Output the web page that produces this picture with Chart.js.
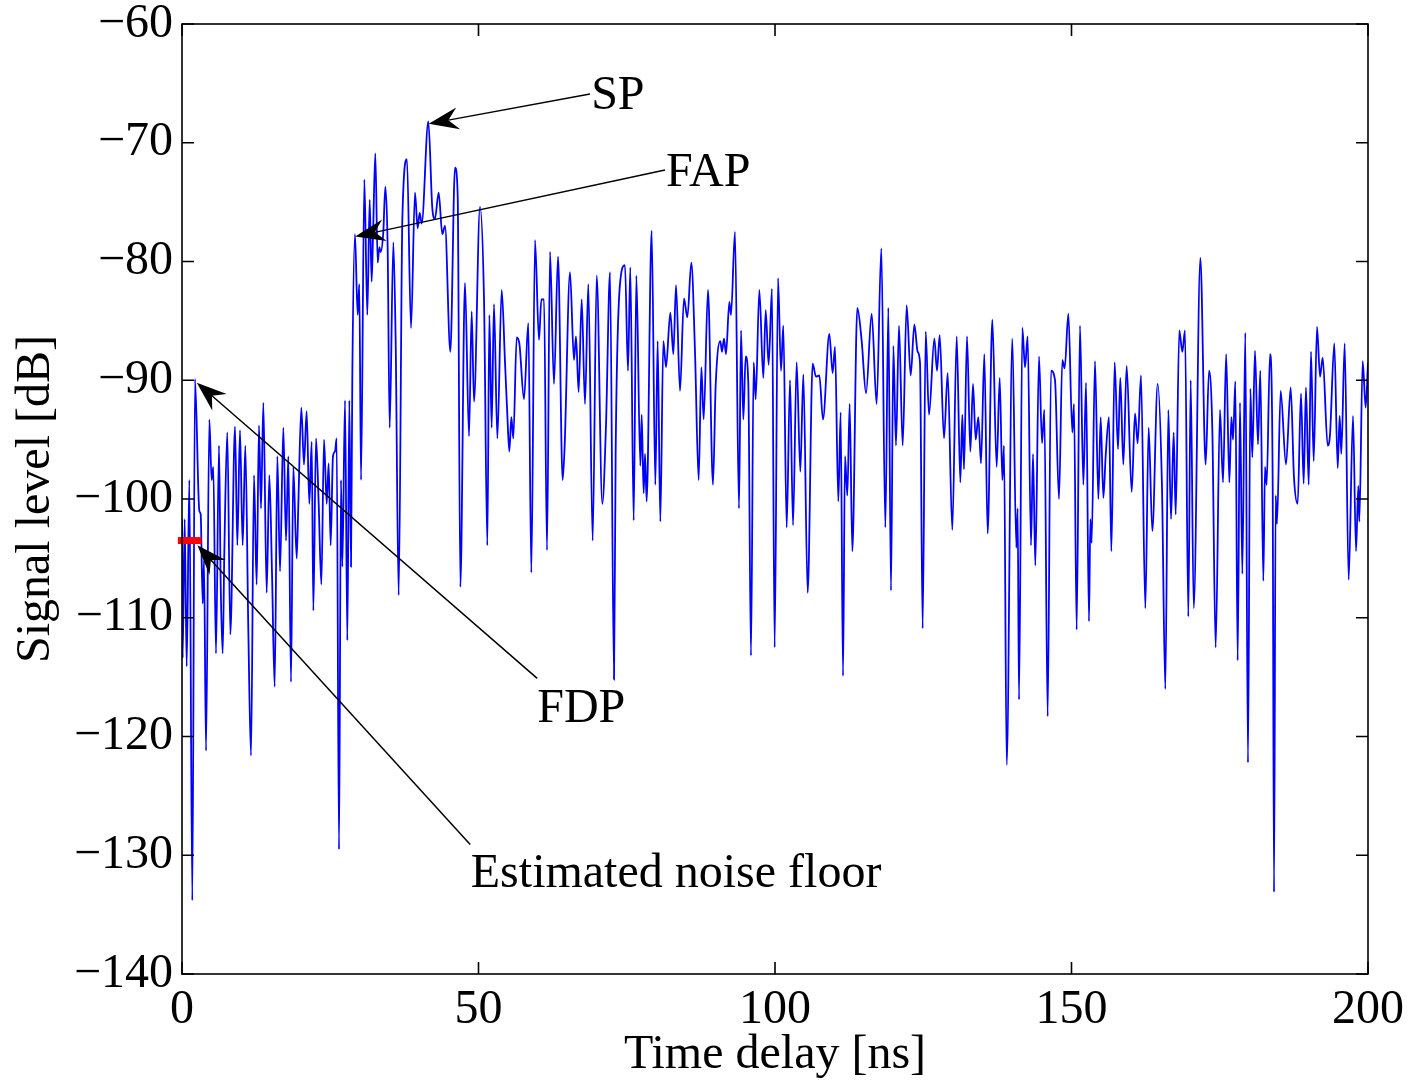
<!DOCTYPE html>
<html><head><meta charset="utf-8">
<script src="https://cdn.jsdelivr.net/npm/chart.js@4.4.1/dist/chart.umd.min.js"></script>
<style>html,body{margin:0;padding:0;background:#fff;overflow:hidden}</style>
</head><body>
<canvas id="c" width="1409" height="1084"></canvas>
<script>
// ---- data (time delay in ns, signal level in dB) ----
const times = [
0,0.11,0.45,0.79,1.24,1.74,2.19,2.92,3.15,3.49,3.71,4.05,4.61,5.00,5.28,5.73,6.24,6.52,6.86,7.14,7.64,8.15,8.94,9.33,9.78,10.23,10.68,11.19,11.64,12.14,12.59,12.98,13.32,13.72,14.28,14.73,15.18,15.63,16.08,16.53,17.09,17.54,17.93,18.38,18.77,19.34,19.62,20.12,20.57,21.02,21.47,21.87,22.15,22.60,23.05,23.50,23.95,24.40,24.73,
25.07,25.46,25.80,26.08,26.48,26.81,27.04,27.49,27.88,28.22,28.50,28.72,29.17,29.62,29.90,30.19,30.75,31.25,31.65,31.98,32.21,32.60,33.00,33.28,33.50,33.95,34.29,34.68,35.02,35.64,36.03,36.54,37.16,37.94,38.62,39.29,39.74,40.08,40.42,41.54,42.21,42.66,43.28,43.90,44.35,45.25,46.04,46.49,46.94,47.72,48.40,48.85,
49.24,50.25,50.93,51.49,51.83,52.22,52.61,53.18,53.91,54.47,54.86,55.20,55.54,55.87,56.44,56.89,57.67,58.40,58.91,59.53,60.20,60.60,61.05,61.55,62.06,62.73,63.41,64.19,64.53,65.43,66.10,66.44,66.89,67.40,67.96,68.52,69.25,69.93,70.88,71.50,72.18,72.85,73.13,73.86,
74.70,75.21,75.60,76.17,76.62,77.29,77.52,77.85,78.08,78.36,79.20,79.82,80.21,80.66,81.17,81.62,82.35,82.86,83.31,83.98,84.65,85.22,85.89,86.51,87.13,87.58,87.97,88.70,89.54,89.99,90.78,91.06,91.40,91.74,92.30,92.58,93.25,93.93,94.27,94.66,95.05,95.50,95.95,96.40,96.74,97.36,98.03,
98.43,98.93,99.49,99.94,100.51,101.01,101.40,101.97,102.53,103.04,103.65,104.27,104.78,105.51,106.35,106.91,107.48,108.09,109.16,109.72,110.12,110.68,111.07,111.47,111.80,112.20,112.59,113.04,113.88,114.62,115.35,116.30,117.14,117.93,118.61,119.11,119.56,119.96,120.40,120.91,121.53,122.20,
122.88,123.50,124.06,124.45,124.90,125.41,125.97,126.87,127.32,127.77,128.50,129.12,129.90,130.64,131.25,131.59,131.87,132.38,132.94,133.39,133.84,134.29,134.74,135.30,135.86,136.65,137.38,137.89,138.34,138.62,139.07,140.02,140.70,140.92,141.15,141.71,142.16,142.61,143.17,143.51,143.90,144.52,145.03,145.42,145.98,146.54,147.22,
147.89,148.45,148.85,149.47,150.14,150.42,150.87,151.43,152.00,152.45,152.95,153.18,153.40,153.96,154.53,154.92,155.37,155.76,156.32,156.72,157.28,157.84,158.23,158.74,159.30,160.15,160.71,161.16,161.72,162.45,163.01,163.63,164.53,165.26,165.82,166.33,166.78,167.23,167.57,168.18,168.69,169.14,169.70,170.10,170.61,
171.73,172.62,173.19,173.75,174.31,175.04,175.55,176.08,176.62,176.96,177.24,177.63,178.02,178.41,178.81,179.31,179.76,180.16,180.49,180.94,181.45,181.84,182.35,182.63,182.91,183.47,183.92,184.15,184.43,184.65,185.27,186.17,186.96,187.52,188.14,188.70,189.15,189.54,190.00,190.39,190.84,191.40,191.91,192.36,193.20,193.59,194.32,194.89,195.22,195.50,196.07,196.74,197.47,197.98,198.37,198.54,199.10,199.61,200.00
];
const levels = [
-101.7,-113.4,-101.7,-114.1,-98.4,-133.8,-89.9,-101.0,-101.3,-108.8,-105.2,-121.2,-93.3,-98.4,-97.3,-113.0,-95.5,-107.0,-113.0,-104.4,-94.4,-111.4,-93.9,-103.9,-94.2,-103.9,-95.5,-111.2,-121.6,-98.0,-107.2,-93.8,-100.8,-91.9,-107.9,-98.0,-106.3,-115.8,-96.4,-106.1,-94.0,-103.5,-96.4,-115.4,-97.3,-105.0,-100.4,-92.3,-97.1,-92.6,-100.4,-95.2,-109.4,-94.9,-100.4,-107.2,-95.0,-100.4,-97.0,
-103.9,-96.4,-96.0,-94.9,-129.5,-98.4,-105.7,-91.7,-111.9,-91.7,-105.7,-89.8,-77.7,-84.5,-81.9,-98.4,-73.1,-84.5,-74.8,-81.7,-77.9,-70.9,-80.1,-78.8,-79.2,-77.5,-73.7,-78.8,-94.0,-78.4,-86.7,-108.1,-76.4,-71.4,-85.6,-74.2,-77.2,-75.9,-76.8,-68.2,-75.5,-76.4,-74.2,-77.7,-77.0,-87.6,-72.1,-74.4,-107.4,-81.8,-94.7,-84.2,
-91.8,-75.4,-83.2,-103.9,-84.5,-94.0,-83.6,-94.9,-82.4,-88.5,-92.9,-96.0,-93.1,-94.9,-86.4,-86.9,-91.6,-85.2,-106.2,-78.2,-86.6,-83.2,-83.2,-104.3,-79.2,-90.3,-79.6,-98.4,-95.5,-80.9,-88.3,-86.3,-91.0,-83.2,-92.0,-81.9,-103.5,-81.2,-100.4,-93.8,-80.9,-115.2,-96.0,-81.9,
-80.3,-89.2,-80.5,-101.8,-81.2,-97.2,-92.9,-99.5,-96.2,-100.2,-77.4,-98.8,-86.7,-101.9,-86.7,-88.9,-84.3,-87.8,-82.0,-90.9,-83.1,-84.7,-80.1,-87.6,-98.4,-88.9,-93.3,-82.4,-98.8,-90.5,-86.7,-87.6,-86.5,-87.8,-83.4,-84.5,-77.5,-100.8,-85.8,-93.3,-88.0,-90.3,-113.2,-88.5,-91.6,-82.4,-89.8,
-84.1,-88.7,-82.3,-112.5,-81.4,-89.2,-85.4,-102.4,-90.0,-102.2,-88.5,-97.7,-89.5,-107.9,-88.6,-89.7,-89.6,-93.3,-86.1,-89.4,-87.2,-100.2,-92.7,-114.9,-96.4,-99.7,-92.0,-104.4,-83.9,-86.7,-91.1,-84.4,-92.0,-78.9,-102.4,-83.9,-107.7,-87.1,-95.5,-85.4,-95.5,-83.7,
-89.6,-85.3,-87.6,-88.5,-110.9,-85.9,-92.9,-86.5,-89.2,-86.2,-94.9,-89.4,-102.6,-86.3,-98.6,-92.9,-97.5,-86.3,-96.0,-90.3,-95.0,-93.1,-97.0,-87.8,-102.9,-84.9,-97.3,-89.8,-98.4,-95.5,-122.4,-86.5,-104.1,-100.8,-116.9,-85.6,-88.9,-86.3,-103.9,-96.2,-105.6,-88.0,-95.3,-92.5,-118.3,-89.2,-90.0,
-100.0,-88.3,-89.0,-84.4,-94.4,-92.0,-111.0,-85.4,-98.8,-90.2,-110.3,-101.7,-103.7,-88.4,-100.0,-93.1,-99.9,-96.4,-93.1,-104.4,-88.5,-95.8,-89.8,-97.1,-88.8,-99.4,-92.8,-95.3,-89.6,-109.2,-94.0,-102.7,-90.3,-99.0,-116.0,-92.5,-101.7,-94.4,-101.3,-85.8,-87.6,-85.8,-109.9,-90.0,-109.2,
-79.7,-97.1,-89.2,-94.2,-112.5,-92.5,-98.6,-87.8,-98.6,-93.1,-95.0,-90.1,-113.6,-91.9,-106.3,-86.0,-122.2,-90.7,-96.5,-87.5,-95.4,-89.2,-106.9,-97.3,-98.8,-87.8,-98.2,-133.1,-99.7,-102.1,-90.9,-97.1,-90.6,-98.2,-100.4,-91.1,-98.7,-90.6,-98.8,-87.6,-96.8,-85.5,-89.7,-88.1,-95.5,-94.6,-86.9,-97.4,-93.0,-96.2,-86.9,-106.8,-93.0,-104.4,-98.9,-101.9,-88.4,-92.3,-88.5
];
const noiseFloorTimes = [-0.7, 3.3];
const noiseFloorLevel = -103.5;
const xTickValues = [0, 50, 100, 150, 200];
const yTickValues = [-140, -130, -120, -110, -100, -90, -80, -70, -60];
const xTitle = 'Time delay [ns]';
const yTitle = 'Signal level [dB]';
// annotation labels with arrow tip / tail / text anchor in data units
const annotationLabels = ['SP', 'FAP', 'FDP', 'Estimated noise floor'];
const annotationTips  = [[41.6, -68.4], [29.2, -77.9], [2.5, -90.2], [2.6, -103.9]];
const annotationTails = [[68.8, -65.9], [81.45, -72.3], [59.9, -115.1], [48.6, -129.1]];
const annotationText  = [[69.0, -66.1], [81.6, -72.6], [59.9, -117.7], [48.7, -131.6]];

const FONT = "'Liberation Serif', 'Times New Roman', serif";
const FS = 48;
const signal = times.map((t, i) => ({x: t, y: levels[i]}));
const floorLine = noiseFloorTimes.map(t => ({x: t, y: noiseFloorLevel}));
const fmt = v => (v < 0 ? '\u2212' + Math.abs(v) : String(v));

const framePlugin = {
  id: 'frame',
  afterDatasetsDraw(chart) {
    const {ctx, chartArea: a, scales: {x, y}} = chart;
    ctx.save();
    ctx.strokeStyle = '#000';
    ctx.lineWidth = 1.6;
    ctx.strokeRect(a.left, a.top, a.right - a.left, a.bottom - a.top);
    const tl = 12;
    ctx.beginPath();
    xTickValues.forEach(v => {
      const px = x.getPixelForValue(v);
      ctx.moveTo(px, a.bottom); ctx.lineTo(px, a.bottom - tl);
      ctx.moveTo(px, a.top); ctx.lineTo(px, a.top + tl);
    });
    yTickValues.forEach(v => {
      const py = y.getPixelForValue(v);
      ctx.moveTo(a.left, py); ctx.lineTo(a.left + tl, py);
      ctx.moveTo(a.right, py); ctx.lineTo(a.right - tl, py);
    });
    ctx.stroke();

    // annotations
    ctx.fillStyle = '#000';
    ctx.lineWidth = 1.5;
    for (let i = 0; i < annotationLabels.length; i++) {
      const tx = x.getPixelForValue(annotationTips[i][0]);
      const ty = y.getPixelForValue(annotationTips[i][1]);
      const sx = x.getPixelForValue(annotationTails[i][0]);
      const sy = y.getPixelForValue(annotationTails[i][1]);
      const dx = sx - tx, dy = sy - ty, len = Math.hypot(dx, dy);
      const ux = dx / len, uy = dy / len, nx = -uy, ny = ux;
      const L = 30, W = 11, N = 20;
      ctx.beginPath();
      ctx.moveTo(sx, sy);
      ctx.lineTo(tx + ux * N, ty + uy * N);
      ctx.stroke();
      ctx.beginPath();
      ctx.moveTo(tx, ty);
      ctx.lineTo(tx + ux * L + nx * W, ty + uy * L + ny * W);
      ctx.lineTo(tx + ux * N, ty + uy * N);
      ctx.lineTo(tx + ux * L - nx * W, ty + uy * L - ny * W);
      ctx.closePath();
      ctx.fill();
      ctx.font = FS + 'px ' + FONT;
      ctx.textAlign = 'left';
      ctx.textBaseline = 'middle';
      ctx.fillText(annotationLabels[i], x.getPixelForValue(annotationText[i][0]), y.getPixelForValue(annotationText[i][1]));
    }
    ctx.restore();
  }
};

new Chart(document.getElementById('c'), {
  type: 'line',
  data: {
    datasets: [
      {data: floorLine, borderColor: '#ff0000', borderWidth: 7, pointRadius: 0, clip: false, order: 0, borderCapStyle: 'butt'},
      {data: signal, borderColor: '#0000ff', borderWidth: 1.8, pointRadius: 0, cubicInterpolationMode: 'monotone', order: 1}
    ]
  },
  options: {
    responsive: false,
    animation: false,
    devicePixelRatio: 1,
    layout: {padding: {left: 0, right: 41, top: 24, bottom: 0}},
    plugins: {legend: {display: false}, tooltip: {enabled: false}},
    scales: {
      x: {
        type: 'linear', min: 0, max: 200,
        afterBuildTicks: s => { s.ticks = xTickValues.map(v => ({value: v})); },
        afterFit: s => { s.height = 110; s.paddingLeft = 0; s.paddingRight = 0; },
        grid: {display: false, drawTicks: false},
        border: {display: false},
        ticks: {color: '#000', font: {family: FONT, size: FS, lineHeight: 1}, padding: 12, maxRotation: 0, callback: v => fmt(v)},
        title: {display: true, text: xTitle, color: '#000', font: {family: FONT, size: FS, lineHeight: 1.2}, padding: {top: 0, bottom: 0}}
      },
      y: {
        type: 'linear', min: -140, max: -60,
        afterBuildTicks: s => { s.ticks = yTickValues.map(v => ({value: v})); },
        afterFit: s => { s.width = 182; s.paddingTop = 0; s.paddingBottom = 0; },
        grid: {display: false, drawTicks: false},
        border: {display: false},
        ticks: {color: '#000', font: {family: FONT, size: FS, lineHeight: 1}, padding: 9, callback: v => fmt(v)},
        title: {display: true, text: yTitle, color: '#000', font: {family: FONT, size: FS, lineHeight: 1.2}, padding: {top: 8, bottom: 0}}
      }
    }
  },
  plugins: [framePlugin]
});
</script>
</body></html>
